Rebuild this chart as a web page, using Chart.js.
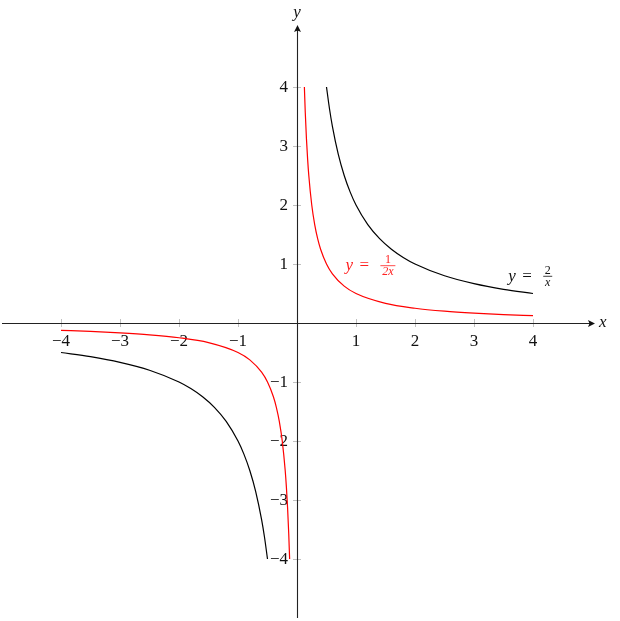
<!DOCTYPE html>
<html>
<head>
<meta charset="utf-8">
<script src="https://cdn.jsdelivr.net/npm/chart.js@4.4.0/dist/chart.umd.min.js"></script>
<style>
  html, body { margin: 0; padding: 0; background: #fff; }
  #wrap { width: 620px; height: 621px; }
</style>
</head>
<body>
<div id="wrap"><canvas id="plot"></canvas></div>
<script>
// values
const xTicks = [-4, -3, -2, -1, 1, 2, 3, 4];
const yTicks = [-4, -3, -2, -1, 1, 2, 3, 4];

// y = 2/x
const blackPosX = [0.5, 0.55, 0.6, 0.7, 0.8, 0.9, 1, 1.2, 1.4, 1.6, 1.8, 2, 2.5, 3, 3.5, 4];
const blackPosY = [4, 3.636, 3.333, 2.857, 2.5, 2.222, 2, 1.667, 1.429, 1.25, 1.111, 1, 0.8, 0.667, 0.571, 0.5];
const blackNegX = [-4, -3.5, -3, -2.5, -2, -1.8, -1.6, -1.4, -1.2, -1, -0.9, -0.8, -0.7, -0.6, -0.55, -0.5];
const blackNegY = [-0.5, -0.571, -0.667, -0.8, -1, -1.111, -1.25, -1.429, -1.667, -2, -2.222, -2.5, -2.857, -3.333, -3.636, -4];

// y = 1/(2x)
const redPosX = [0.125, 0.14, 0.16, 0.18, 0.2, 0.25, 0.3, 0.35, 0.4, 0.5, 0.6, 0.8, 1, 1.5, 2, 2.5, 3, 3.5, 4];
const redPosY = [4, 3.571, 3.125, 2.778, 2.5, 2, 1.667, 1.429, 1.25, 1, 0.833, 0.625, 0.5, 0.333, 0.25, 0.2, 0.167, 0.143, 0.125];
const redNegX = [-4, -3.5, -3, -2.5, -2, -1.5, -1, -0.8, -0.6, -0.5, -0.4, -0.35, -0.3, -0.25, -0.2, -0.18, -0.16, -0.14, -0.125];
const redNegY = [-0.125, -0.143, -0.167, -0.2, -0.25, -0.333, -0.5, -0.625, -0.833, -1, -1.25, -1.429, -1.667, -2, -2.5, -2.778, -3.125, -3.571, -4];

const pts = (xs, ys) => xs.map((x, i) => ({ x: x, y: ys[i] }));

function curve(xs, ys, color) {
    return {
        data: pts(xs, ys),
        borderColor: color,
        borderWidth: 1.2,
        pointRadius: 0,
        showLine: true,
        fill: false,
        cubicInterpolationMode: 'monotone'
    };
}

const SERIF = '"Liberation Serif", "DejaVu Serif", serif';

// axes through the origin, with arrows, ticks and labels
const middleAxes = {
    id: 'middleAxes',
    beforeDatasetsDraw(chart) {
        const ctx = chart.ctx;
        const sx = chart.scales.x, sy = chart.scales.y;
        const ox = sx.getPixelForValue(0), oy = sy.getPixelForValue(0);
        const left = sx.getPixelForValue(-5), right = sx.getPixelForValue(5);
        const top = sy.getPixelForValue(5), bottom = sy.getPixelForValue(-5);
        ctx.save();

        // tick marks
        ctx.strokeStyle = '#c0c0c0';
        ctx.lineWidth = 1;
        xTicks.forEach(v => {
            const px = Math.round(sx.getPixelForValue(v)) + 0.5;
            ctx.beginPath(); ctx.moveTo(px, oy - 4); ctx.lineTo(px, oy + 4); ctx.stroke();
        });
        yTicks.forEach(v => {
            const py = Math.round(sy.getPixelForValue(v)) + 0.5;
            ctx.beginPath(); ctx.moveTo(ox - 4, py); ctx.lineTo(ox + 4, py); ctx.stroke();
        });

        // axis lines
        ctx.strokeStyle = '#222';
        ctx.lineWidth = 1.1;
        ctx.beginPath();
        ctx.moveTo(left, Math.round(oy) + 0.5); ctx.lineTo(right, Math.round(oy) + 0.5);
        ctx.moveTo(Math.round(ox) + 0.5, bottom); ctx.lineTo(Math.round(ox) + 0.5, top);
        ctx.stroke();

        // arrow heads
        ctx.fillStyle = '#111';
        const ay = Math.round(oy) + 0.5, axx = Math.round(ox) + 0.5;
        ctx.beginPath();
        ctx.moveTo(right + 3, ay); ctx.lineTo(right - 4, ay - 3.5);
        ctx.lineTo(right - 2.5, ay); ctx.lineTo(right - 4, ay + 3.5); ctx.closePath(); ctx.fill();
        ctx.beginPath();
        ctx.moveTo(axx, top - 3); ctx.lineTo(axx - 3.5, top + 4);
        ctx.lineTo(axx, top + 2.5); ctx.lineTo(axx + 3.5, top + 4); ctx.closePath(); ctx.fill();

        // tick labels
        ctx.fillStyle = '#111';
        ctx.font = '17px ' + SERIF;
        ctx.textAlign = 'center';
        ctx.textBaseline = 'middle';
        xTicks.forEach(v => {
            const label = v < 0 ? '\u2212' + (-v) : String(v);
            ctx.fillText(label, sx.getPixelForValue(v), oy + 19);
        });
        ctx.textAlign = 'right';
        yTicks.forEach(v => {
            const label = v < 0 ? '\u2212' + (-v) : String(v);
            ctx.fillText(label, ox - 9, sy.getPixelForValue(v) + 1);
        });

        // axis names
        ctx.font = 'italic 17px ' + SERIF;
        ctx.textAlign = 'left';
        ctx.fillText('x', right + 7, oy);
        ctx.textAlign = 'center';
        ctx.fillText('y', ox, top - 15);
        ctx.restore();
    },
    afterDatasetsDraw(chart) {
        const ctx = chart.ctx;
        const sx = chart.scales.x, sy = chart.scales.y;
        function eqLabel(x0, y0, num, den, color) {
            ctx.save();
            ctx.fillStyle = color;
            ctx.strokeStyle = color;
            ctx.textBaseline = 'alphabetic';
            ctx.textAlign = 'left';
            ctx.font = 'italic 17px ' + SERIF;
            ctx.fillText('y', x0, y0 + 5);
            ctx.font = '17px ' + SERIF;
            ctx.fillText('=', x0 + 14, y0 + 5);
            const fx = x0 + 35;
            ctx.font = '12px ' + SERIF;
            const w = Math.max(ctx.measureText(num).width, ctx.measureText(den).width) + 3;
            ctx.textAlign = 'center';
            ctx.fillText(num, fx + w / 2, y0 - 2);
            ctx.font = 'italic 12px ' + SERIF;
            ctx.fillText(den, fx + w / 2, y0 + 10);
            ctx.lineWidth = 0.8;
            ctx.beginPath(); ctx.moveTo(fx, y0 + 0.5); ctx.lineTo(fx + w, y0 + 0.5); ctx.stroke();
            ctx.restore();
        }
        eqLabel(sx.getPixelForValue(0.82), sy.getPixelForValue(0.98), '1', '2x', '#ff2020');
        eqLabel(sx.getPixelForValue(3.58), sy.getPixelForValue(0.8), '2', 'x', '#111');
    }
};

new Chart(document.getElementById('plot'), {
    type: 'scatter',
    data: {
        datasets: [
            curve(blackPosX, blackPosY, '#000'),
            curve(blackNegX, blackNegY, '#000'),
            curve(redPosX, redPosY, '#ff0000'),
            curve(redNegX, redNegY, '#ff0000')
        ]
    },
    options: {
        responsive: true,
        maintainAspectRatio: false,
        animation: false,
        layout: { padding: { left: 2, right: 28, top: 28, bottom: 3 } },
        plugins: { legend: { display: false }, tooltip: { enabled: false } },
        scales: {
            x: { type: 'linear', min: -5, max: 5, display: false },
            y: { type: 'linear', min: -5, max: 5, display: false }
        }
    },
    plugins: [middleAxes]
});
</script>
</body>
</html>
